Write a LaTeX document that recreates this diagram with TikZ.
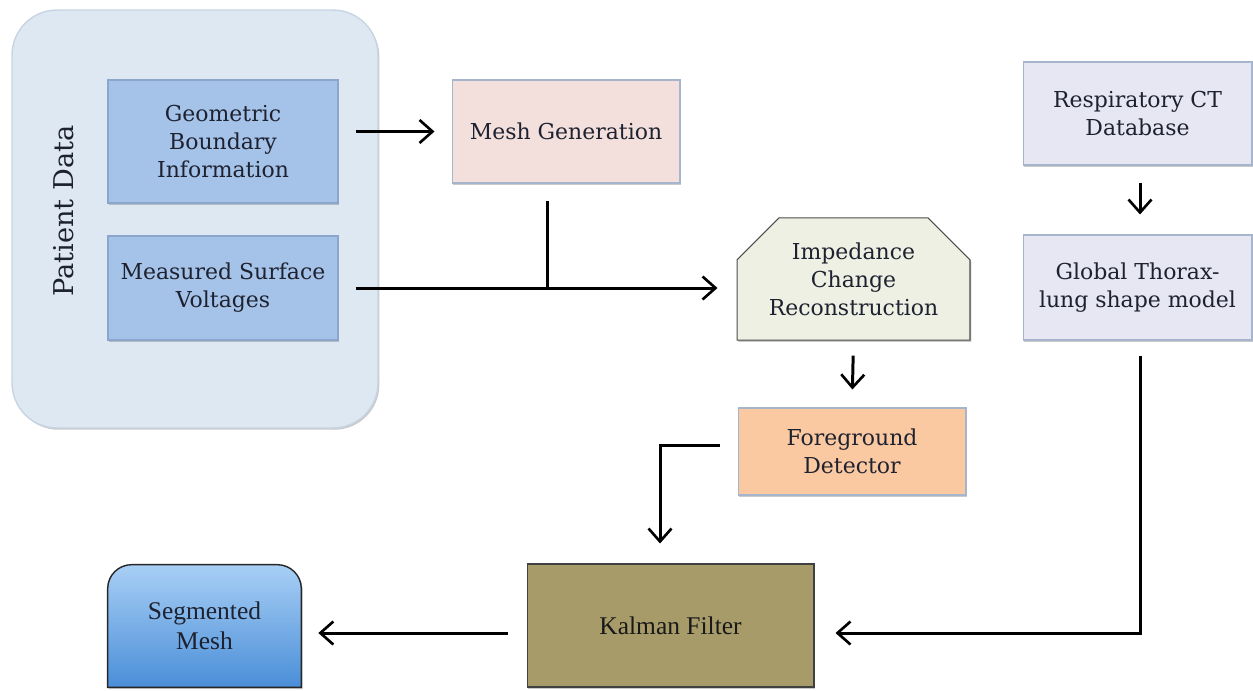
\documentclass[tikz,border=0pt]{standalone}
\usepackage{fontspec}
\setmainfont{DejaVu Serif}
\newfontfamily\narrowserif{Liberation Serif}
\usetikzlibrary{arrows.meta,shapes.misc,shadows}
\definecolor{contfill}{HTML}{DEE8F3}
\definecolor{contline}{HTML}{C8D4E2}
\definecolor{bluefill}{HTML}{A5C3E8}
\definecolor{blueline}{HTML}{8AA6CA}
\definecolor{meshfill}{HTML}{F3E0DD}
\definecolor{lightline}{HTML}{A6B4CC}
\definecolor{impfill}{HTML}{EEF0E3}
\definecolor{fgfill}{HTML}{FAC9A1}
\definecolor{kalfill}{HTML}{A89B6A}
\definecolor{segtop}{HTML}{A8CFF5}
\definecolor{segbot}{HTML}{4A8ED8}
\definecolor{lavfill}{HTML}{E7E6F3}
\definecolor{txt}{HTML}{1E2230}
\tikzset{
  sh/.style={drop shadow={shadow xshift=0.8pt,shadow yshift=-1pt,opacity=0.35,fill=black!60}},
  boxbase/.style={rectangle, align=center, inner sep=2pt, text=txt,
    font=\fontsize{12.5}{16}\selectfont, line width=0.6pt, sh},
  bluebox/.style={boxbase, fill=bluefill, draw=blueline},
  meshbox/.style={boxbase, fill=meshfill, draw=lightline},
  impbox/.style={boxbase, chamfered rectangle, chamfered rectangle corners={north west,north east},
    chamfered rectangle xsep=0.42cm, chamfered rectangle ysep=0.42cm, fill=impfill, draw=black!70},
  fgbox/.style={boxbase, fill=fgfill, draw=lightline},
  kalbox/.style={boxbase, fill=kalfill, draw=black!75, text=black!90, font=\narrowserif\fontsize{14.5}{17}\selectfont},
  lavbox/.style={boxbase, fill=lavfill, draw=lightline},
  segtext/.style={align=center, text=txt, font=\narrowserif\fontsize{14.5}{17}\selectfont, inner sep=0pt},
  conn/.style={line width=1.7pt, black},
  arr/.style={conn, -{Straight Barb[length=2.6mm,width=4.6mm,line width=1.5pt]}},
}
\begin{document}
\begin{tikzpicture}[x=0.02cm,y=-0.02cm]
\useasboundingbox (0,0) rectangle (1253,690);
% container
\node[draw=contline, fill=contfill, line width=0.8pt, rounded corners=0.9cm,
  minimum width=7.32cm, minimum height=8.36cm, sh] (cont) at (195,219) {};
\node[rotate=90, text=txt, font=\fontsize{15.5}{18}\selectfont] (pd) at (64,211) {Patient Data};
% nodes
\node[bluebox, minimum width=4.6cm, minimum height=2.46cm] (geo) at (223,141.5) {Geometric\\Boundary\\Information};
\node[bluebox, minimum width=4.6cm, minimum height=2.08cm] (meas) at (223,288) {Measured Surface\\Voltages};
\node[meshbox, minimum width=4.56cm, minimum height=2.06cm] (mesh) at (566,131.5) {Mesh Generation};
\node[impbox, minimum width=4.66cm, minimum height=2.44cm] (imp) at (853.5,279) {Impedance\\Change\\Reconstruction};
\node[fgbox, minimum width=4.56cm, minimum height=1.74cm] (fg) at (852,451.5) {Foreground\\Detector};
\node[kalbox, minimum width=5.74cm, minimum height=2.46cm] (kal) at (670.5,625.5) {Kalman Filter};
\node[lavbox, minimum width=4.58cm, minimum height=2.06cm] (resp) at (1137.5,113.5) {Respiratory CT\\Database};
\node[lavbox, minimum width=4.58cm, minimum height=2.1cm] (glob) at (1137.5,287.5) {Global Thorax-\\lung shape model};
% segmented mesh
\node[segtext, minimum width=3.86cm, minimum height=2.44cm] (seg) at (204.5,626) {};
\shade[sh, draw=black!85, line width=0.8pt, top color=segtop, bottom color=segbot]
  (seg.south west) -- ([yshift=-0.48cm]seg.north west)
  arc[start angle=180,end angle=90,radius=0.48cm]
  -- ([xshift=-0.48cm]seg.north east)
  arc[start angle=90,end angle=0,radius=0.48cm]
  -- (seg.south east) -- cycle;
\node[segtext] (segt) at (seg.center) {Segmented\\Mesh};
% connectors
\coordinate (j) at (547,288);
\coordinate (b1) at (660,445);
\coordinate (b2) at (1140,633);
\draw[arr, shorten <=0.34cm, shorten >=0.34cm] (geo.east |- mesh.west) -- (mesh.west);
\draw[arr, shorten <=0.34cm, shorten >=0.38cm] (meas.east) -- (meas.east -| imp.west);
\draw[conn] ([yshift=-0.34cm]mesh.south -| j) -- (j);
\draw[arr, shorten <=0.3cm, shorten >=0.36cm] (imp.south) -- (fg.north);
\draw[arr, shorten >=0.4cm] ([xshift=-0.36cm]fg.west |- b1) -- (b1) -- (b1 |- kal.north);
\draw[arr, shorten <=0.38cm, shorten >=0.34cm] (kal.west |- b2) -- (seg.east |- b2);
\draw[arr, shorten <=0.34cm, shorten >=0.4cm] (resp.south -| b2) -- (glob.north -| b2);
\draw[arr, shorten >=0.42cm] ([yshift=-0.3cm]glob.south -| b2) -- (b2) -- (kal.east |- b2);
\end{tikzpicture}
\end{document}
